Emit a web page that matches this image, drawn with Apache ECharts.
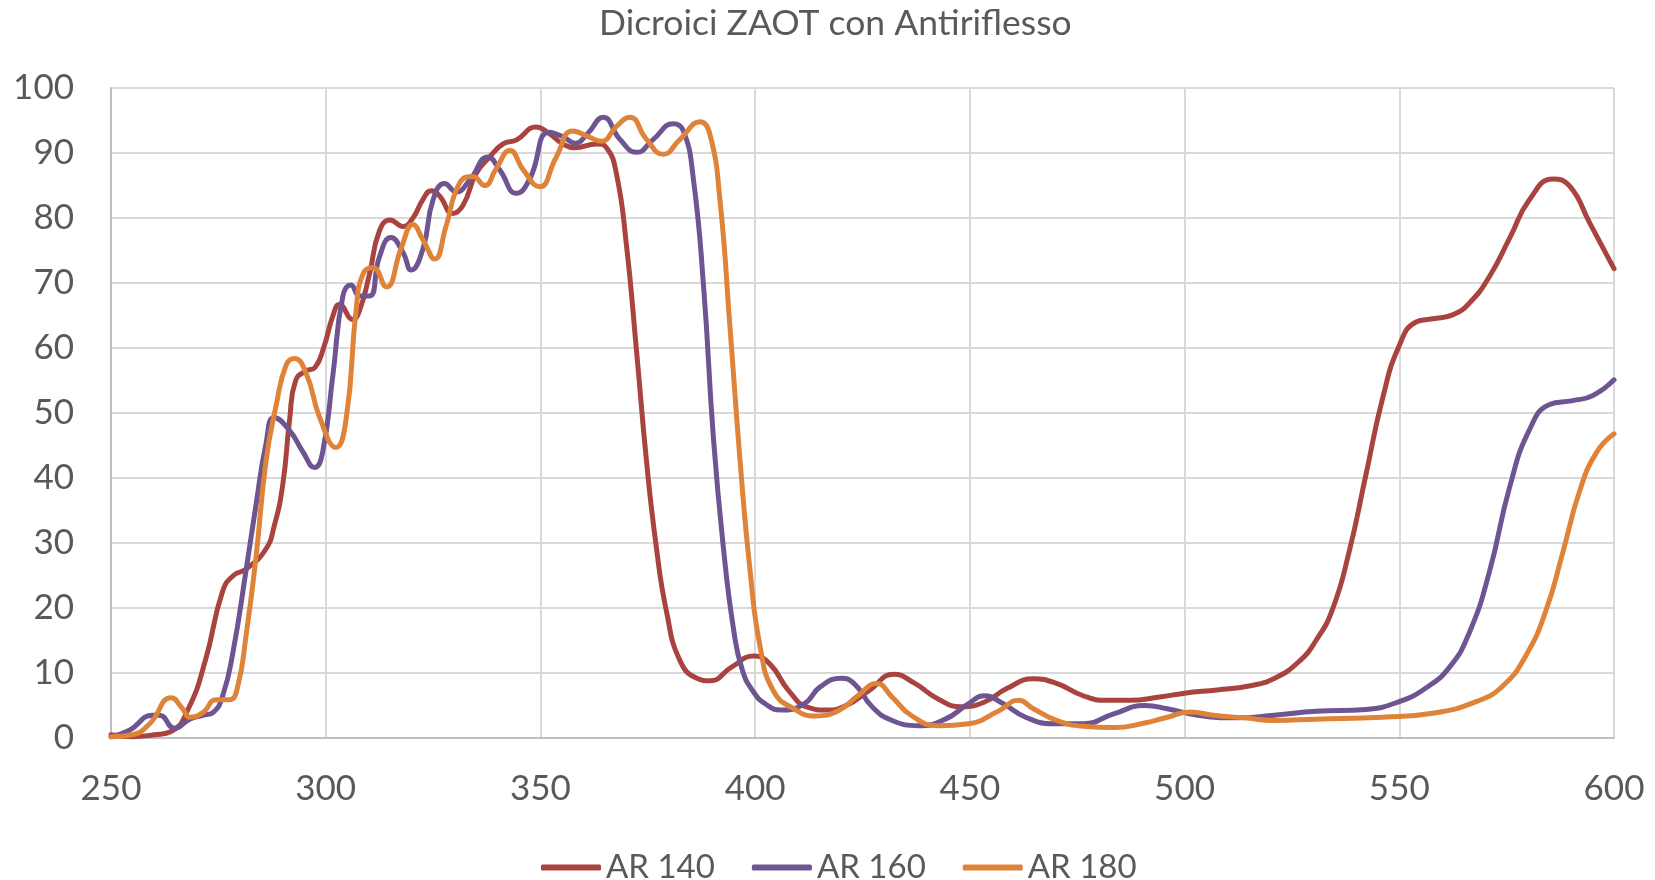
<!DOCTYPE html>
<html>
<head>
<meta charset="utf-8">
<script src="https://cdn.jsdelivr.net/npm/echarts@6/dist/echarts.min.js"></script>
<style>
html,body{margin:0;padding:0;background:#fff;}
#chart{width:1655px;height:880px;}
</style>
</head>
<body>
<div id="chart"></div>
<script>
const chartTitle = 'Dicroici ZAOT con Antiriflesso';
const seriesNames = ['AR 140', 'AR 160', 'AR 180'];
const xTicks = [250, 300, 350, 400, 450, 500, 550, 600];
const yTicks = [0, 10, 20, 30, 40, 50, 60, 70, 80, 90, 100];

const ar140X = [250,255,260,264,268,272,276,278.5,281.5,286,288,290,291.6,293,295.5,297.5,299.5,301.7,303.2,306.3,308,310.2,312.5,315,318,320.3,322.6,324.6,326.5,329.6,332,335,338.2,341.3,344.4,349,352,355,358,363,365.4,367.7,370,372.4,374.7,377,379.4,382.5,386.4,389.5,394.5,399.7,403.4,407.8,412.3,416.7,421.2,426.5,432.3,437.2,442.6,447.9,453.3,458.6,464.8,470.2,476.4,481.7,487.1,494.2,500,507.6,515,521,526.7,530.6,534.4,538.3,542.2,546.1,550,553.9,557.8,562.4,566.3,571,575.7,580.3,585.8,589.7,594.3,600];
const ar140Y = [0.5,0.2,0.5,1.0,4.5,12,22.6,25,26,29,32.6,39,49,55,56.5,57,60,65,66.7,64.4,66,71.4,78,79.7,78.7,80,82.8,84.2,83.4,80.7,82,86.8,89.4,91.4,92,94,93,91.5,90.8,91.4,90.8,86.8,76,59.4,42.6,29.3,19.3,11.9,9.2,8.8,10.9,12.6,11.4,7.3,4.7,4.3,5,7.3,9.8,8.4,6,4.8,5.5,7.6,9.1,8.4,6.5,5.8,5.8,6.3,6.9,7.4,8.0,9.2,11.8,15,19.7,28.6,40.4,52.2,60.4,64,64.5,65.1,66.9,71,76.9,82.8,86,84.9,79.3,72.2];

const ar160X = [250,254.3,259.7,261.3,264.8,268.3,271.4,273.7,276,278.4,281.5,283.8,286.1,288,291.6,294.7,297.4,299.3,301.7,304,305.9,307.9,310.2,312.5,315.2,318,319.9,322.7,325,327.7,330.4,333.5,337.8,340.5,344.4,347.5,352,355.3,358,361,364.6,368.5,372.4,376.3,380.9,383.3,385.6,388,390.3,392.6,395,397,399.5,402.5,406,411.3,415.2,420,423,427.4,431.9,438.1,444.3,449.7,453.3,457.7,463,469.3,476.4,483.5,490.7,496,503.1,512,520.9,530.6,542.2,550,556.2,561.7,566.3,571,575.7,580.3,585,590.4,595.1,600];
const ar160Y = [0.2,1.2,3.5,3.5,1.5,2.9,3.5,3.9,6.5,13.2,26,36,45.3,49.3,47.3,44,41.6,44,56,68,69.7,68,68,74,77,74.7,72,75.4,82.8,85.3,84,85.8,89.4,87.4,83.8,86,93.2,92.5,91.5,93,95.5,92.1,90.1,92.1,94.5,93.4,86.1,69.4,46,29.3,16.6,10.5,7.2,5.2,4.3,5.2,7.9,9.2,8.4,4.7,2.7,1.9,2.9,5.3,6.5,5.3,3.2,2.2,2.2,3.7,5,4.5,3.5,3.1,3.5,4.1,4.4,5.6,7.7,10.9,16.2,25.6,38.6,47.4,51.3,51.9,52.7,55.1];

const ar180X = [250,255,259,264,266.7,268.3,271.4,274.5,277.6,279.5,281.5,283.8,286.1,288.5,290.8,292.7,295.5,298.6,302.4,304.8,307.1,308.7,311,314.1,317.6,320.3,322.6,325.4,328,331.2,334.3,337,339.7,342.9,346,349.8,353.7,357.5,361.5,364.2,367.7,370.8,374.7,378.6,382.5,387.2,389.5,391.8,394.2,396.5,398.8,401.2,404.3,409,414,419.4,423.9,428.3,431.9,436.3,442.6,449.7,456.8,461.3,464.8,470.2,476.4,483.5,490.7,496,501.3,506.7,513.8,520.9,530.6,546.1,557.8,567.9,574.1,579.5,584.2,588.1,592,595.9,600];
const ar180Y = [0.2,0.5,2.2,6.2,4.5,3.2,3.9,5.9,5.9,7.9,16,28,42.6,51.3,57.4,58.4,56,49.3,44.7,49.3,66,71.4,72.4,69.4,75.4,79,76.7,73.7,78.7,85.4,86.4,85,87.6,90.4,87.4,84.8,89.4,93.4,92.4,91.8,94.1,95.5,92.1,89.8,92.1,94.8,92.8,82.8,62.7,42.6,25.9,13.9,7.2,4.5,3.4,4.2,6.5,8.4,6.3,3.5,1.9,2.2,4.2,5.8,4.5,2.7,1.8,1.6,2.3,3.2,4.0,3.5,3.1,2.7,2.9,3.2,3.8,5.6,8,12.7,19.7,28.6,38,43.9,46.8];

const seriesColors = ['#A9433F', '#6E5592', '#DF8339'];
const FONT = 'Lato';
const TXT = '#595959';

function zip(xs, ys) { return xs.map((x, i) => [x, ys[i]]); }
const seriesData = [zip(ar140X, ar140Y), zip(ar160X, ar160Y), zip(ar180X, ar180Y)];

const chart = echarts.init(document.getElementById('chart'), null, {renderer: 'canvas'});
chart.setOption({
  animation: false,
  backgroundColor: '#ffffff',
  title: {
    text: chartTitle,
    left: 594,
    top: 1,
    textStyle: {fontFamily: FONT, fontSize: 35.5, fontWeight: 'normal', color: TXT}
  },
  legend: {
    data: seriesNames,
    left: 536,
    top: 846,
    icon: 'roundRect',
    itemWidth: 60,
    itemHeight: 6,
    itemGap: 37,
    textStyle: {fontFamily: FONT, fontSize: 33, color: TXT}
  },
  grid: {left: 111, right: 41, top: 88, bottom: 142, containLabel: false},
  xAxis: {
    type: 'value',
    min: xTicks[0],
    max: xTicks[xTicks.length - 1],
    interval: 50,
    axisLine: {show: true, lineStyle: {color: '#BFBFBF', width: 2}},
    axisTick: {show: false},
    axisLabel: {fontFamily: FONT, fontSize: 35, color: TXT, margin: 33},
    splitLine: {show: true, lineStyle: {color: '#D9D9D9', width: 2}}
  },
  yAxis: {
    type: 'value',
    min: yTicks[0],
    max: yTicks[yTicks.length - 1],
    interval: 10,
    axisLine: {show: true, lineStyle: {color: '#BFBFBF', width: 2}},
    axisTick: {show: false},
    axisLabel: {fontFamily: FONT, fontSize: 35, color: TXT, margin: 37},
    splitLine: {show: true, lineStyle: {color: '#D9D9D9', width: 2}}
  },
  series: seriesNames.map((name, i) => ({
    name: name,
    type: 'line',
    data: seriesData[i],
    smooth: 0.5,
    showSymbol: false,
    symbol: 'none',
    lineStyle: {color: seriesColors[i], width: 5, cap: 'round', join: 'round'},
    itemStyle: {color: seriesColors[i]}
  }))
});
</script>
</body>
</html>
